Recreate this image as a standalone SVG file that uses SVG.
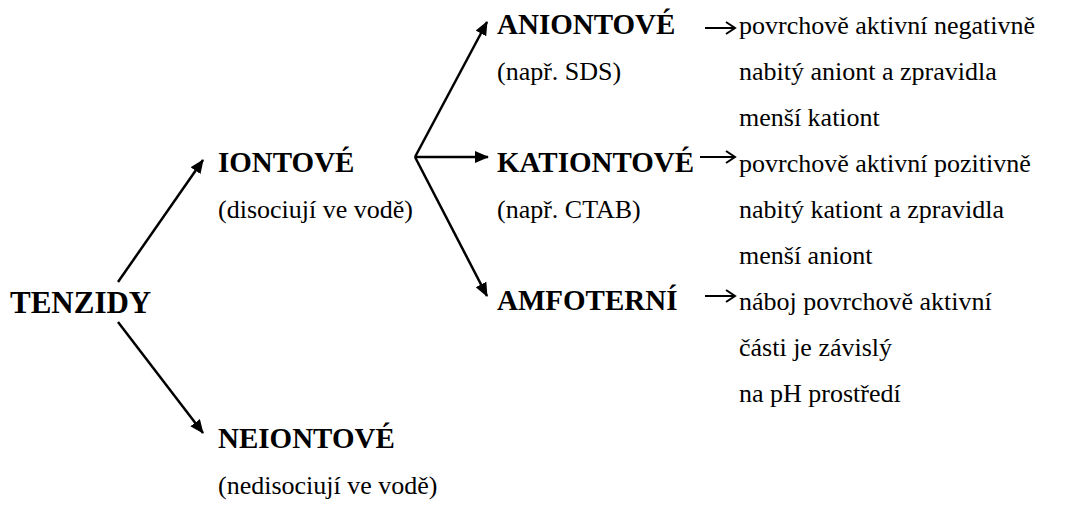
<svg xmlns="http://www.w3.org/2000/svg" width="1071" height="505" viewBox="0 0 1071 505">
<style>
.b{font-family:"Liberation Serif","Times New Roman",serif;font-weight:bold;font-size:29px;fill:#000}
.t{font-family:"Liberation Serif","Times New Roman",serif;font-size:26px;fill:#000}
.c{stroke:#000;stroke-width:2.5;fill:none}
.o{stroke:#000;stroke-width:2;fill:none}
</style>
<defs>
<marker id="ah" markerUnits="userSpaceOnUse" viewBox="0 0 14 12" refX="13" refY="6" markerWidth="14" markerHeight="12" orient="auto">
<path d="M0,0 L14,6 L0,12 z" fill="#000"/>
</marker>
<marker id="oh" markerUnits="userSpaceOnUse" viewBox="0 0 12 14" refX="10" refY="7" markerWidth="12" markerHeight="14" orient="auto">
<path d="M1,1 L10,7 L1,13" fill="none" stroke="#000" stroke-width="2"/>
</marker>
</defs>
<g id="connectors">
<line class="c" x1="118" y1="282" x2="203" y2="160" marker-end="url(#ah)"/>
<line class="c" x1="118" y1="322" x2="203" y2="433" marker-end="url(#ah)"/>
<line class="c" x1="415" y1="157" x2="487" y2="22" marker-end="url(#ah)"/>
<line class="c" x1="415" y1="157" x2="488" y2="157" marker-end="url(#ah)"/>
<line class="c" x1="415" y1="157" x2="487" y2="296" marker-end="url(#ah)"/>
<line class="o" x1="705" y1="28" x2="735" y2="28" marker-end="url(#oh)"/>
<line class="o" x1="700" y1="157" x2="735" y2="157" marker-end="url(#oh)"/>
<line class="o" x1="705" y1="296" x2="735" y2="296" marker-end="url(#oh)"/>
</g>
<g id="tenzidy"><text class="b" x="10" y="313" style="font-size:31px">TENZIDY</text></g>
<g id="iontove"><text class="b" x="218" y="172">IONTOVÉ</text><text class="t" x="218" y="218">(disociují ve vodě)</text></g>
<g id="neiontove"><text class="b" x="218" y="448">NEIONTOVÉ</text><text class="t" x="218" y="494">(nedisociují ve vodě)</text></g>
<g id="aniontove"><text class="b" x="497" y="34">ANIONTOVÉ</text><text class="t" x="497" y="80">(např. SDS)</text></g>
<g id="kationtove"><text class="b" x="497" y="172">KATIONTOVÉ</text><text class="t" x="497" y="218">(např. CTAB)</text></g>
<g id="amfoterni"><text class="b" x="497" y="310">AMFOTERNÍ</text></g>
<g id="desc-anion"><text class="t" x="739" y="34">povrchově aktivní negativně</text><text class="t" x="739" y="80">nabitý aniont a zpravidla</text><text class="t" x="739" y="126">menší kationt</text></g>
<g id="desc-kation"><text class="t" x="739" y="172">povrchově aktivní pozitivně</text><text class="t" x="739" y="218">nabitý kationt a zpravidla</text><text class="t" x="739" y="264">menší aniont</text></g>
<g id="desc-amfo"><text class="t" x="739" y="310">náboj povrchově aktivní</text><text class="t" x="739" y="356">části je závislý</text><text class="t" x="739" y="402">na pH prostředí</text></g>
</svg>
